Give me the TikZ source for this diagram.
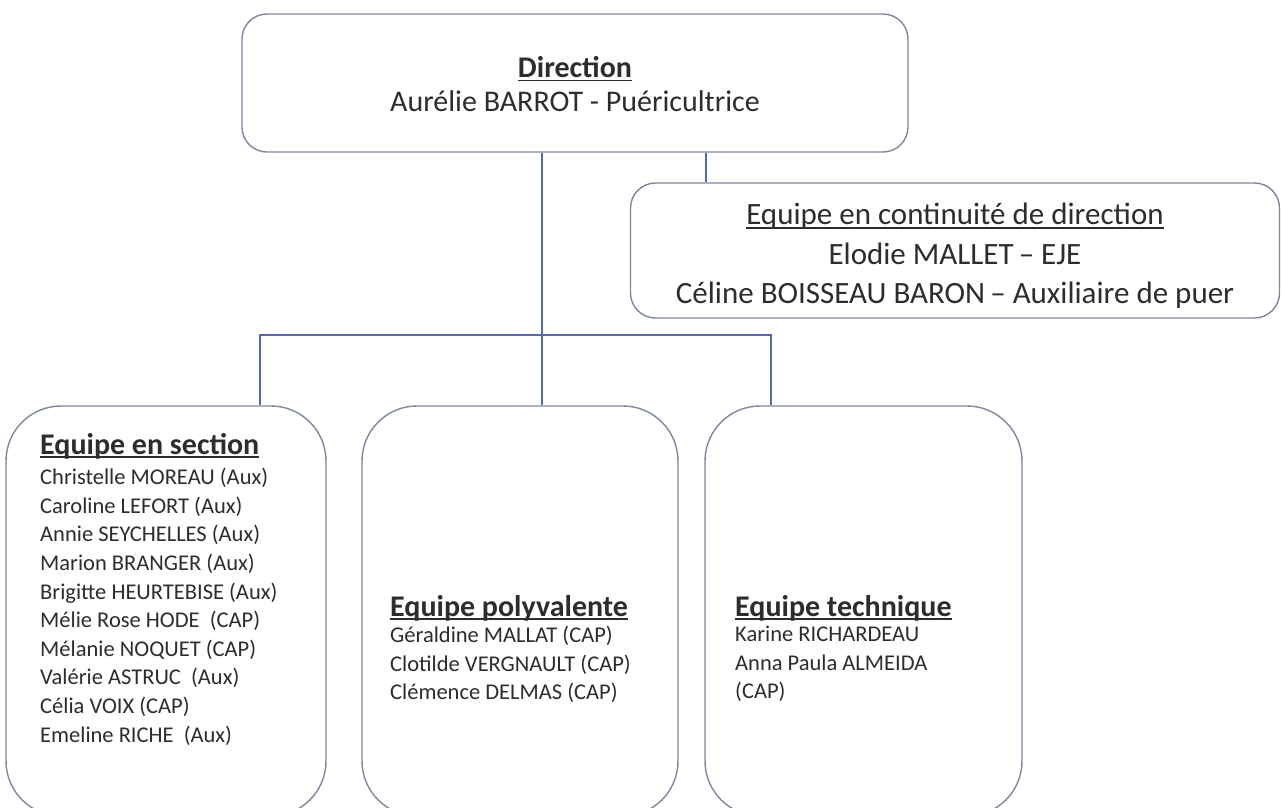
\documentclass[tikz,border=0pt]{standalone}
\usepackage{fontspec}
\setmainfont{Carlito}
\definecolor{boxc}{RGB}{125,135,158}
\definecolor{connc}{RGB}{85,105,170}
\definecolor{txtc}{RGB}{45,45,45}
\newcommand\myul[1]{\setbox0\hbox{#1}\rlap{\rule[-0.13em]{\wd0}{0.06em}}\box0}
\begin{document}
\begin{tikzpicture}[x=1pt,y=-1pt,
  box/.style={draw=boxc, line width=1.4pt, fill=white, rounded corners=#1, inner sep=0pt},
  conn/.style={draw=connc, line width=1.3pt},
  bigtxt/.style={text=txtc, font=\fontsize{30}{34}\selectfont, inner sep=0pt},
  ttl/.style={text=txtc, font=\bfseries\fontsize{30}{34}\selectfont, inner sep=0pt, anchor=west},
  names/.style={text=txtc, font=\fontsize{22.5}{28.6}\selectfont, inner sep=0pt, align=left, anchor=north west}]
\fill[white] (0,0) rectangle (1283,807);
\useasboundingbox (0,0) rectangle (1283,807);
\clip (0,0) rectangle (1283,807);
% boxes
\node[box=25pt, minimum width=666pt, minimum height=138pt] (dir) at (575,83) {};
\node[box=25pt, minimum width=649pt, minimum height=135pt] (cont) at (955,250.5) {};
\node[box=55pt, minimum width=320pt, minimum height=410pt] (sec) at (166,611) {};
\node[box=55pt, minimum width=316pt, minimum height=410pt] (poly) at (520,611) {};
\node[box=55pt, minimum width=317pt, minimum height=410pt] (tech) at (863.5,611) {};
% connectors
\coordinate (j) at (542,335);
\coordinate (jl) at (260,335);
\coordinate (jr) at (771,335);
\coordinate (jc) at (706,170);
\draw[conn] (dir.south -| j) -- (poly.north -| j);
\draw[conn] (sec.north -| jl) -- (jl) -- (jr) -- (tech.north -| jr);
\draw[conn] (dir.south -| jc) -- (cont.north -| jc);
% texts
\node[bigtxt, align=center] (dirtxt) at (575,84) {{\bfseries\myul{Direction}}\\Aurélie BARROT - Puéricultrice};
\node[bigtxt, align=center, font=\fontsize{31}{39.5}\selectfont] (conttxt) at (955,256) {\myul{Equipe en continuité de direction}\\Elodie MALLET\,– EJE\\Céline BOISSEAU BARON\,– Auxiliaire de puer};
\node[ttl] (secttl) at (40,446) {\myul{Equipe en section}};
\node[names] (secnames) at (40,468) {Christelle MOREAU (Aux)\\Caroline LEFORT (Aux)\\Annie SEYCHELLES (Aux)\\Marion BRANGER (Aux)\\Brigitte HEURTEBISE (Aux)\\Mélie Rose HODE~~(CAP)\\Mélanie NOQUET (CAP)\\Valérie ASTRUC~ (Aux)\\Célia VOIX (CAP)\\Emeline RICHE~ (Aux)};
\node[ttl] (polyttl) at (390,608) {\myul{Equipe polyvalente}};
\node[names] (polynames) at (390,626) {Géraldine MALLAT (CAP)\\Clotilde VERGNAULT (CAP)\\Clémence DELMAS (CAP)};
\node[ttl] (techttl) at (735,608) {\myul{Equipe technique}};
\node[names] (technames) at (735,626) {Karine RICHARDEAU\\Anna Paula ALMEIDA\\(CAP)};
\end{tikzpicture}
\end{document}
